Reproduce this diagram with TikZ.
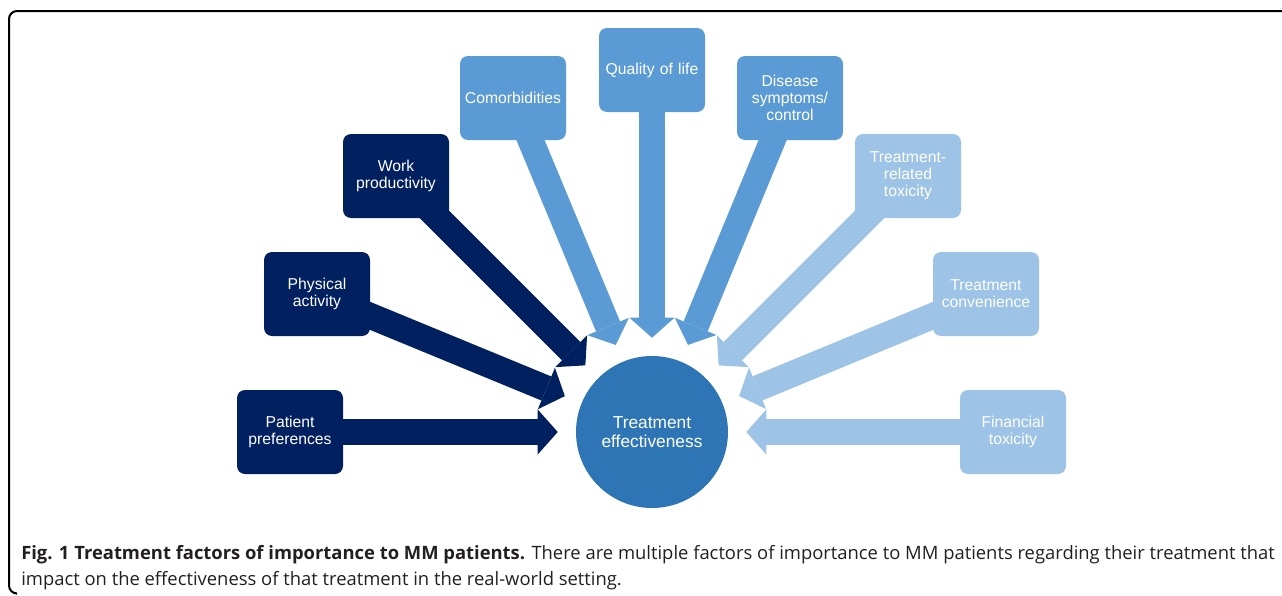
\documentclass[tikz,border=0pt]{standalone}
\usepackage{fontspec}
\setmainfont{Liberation Sans}
\newfontfamily\captionfont{Open Sans}
\usetikzlibrary{arrows.meta, positioning}
\definecolor{navy}{RGB}{0,32,96}
\definecolor{midblue}{RGB}{91,155,213}
\definecolor{lightblue}{RGB}{157,195,230}
\definecolor{core}{RGB}{46,117,182}
\definecolor{captiontext}{RGB}{35,31,32}
\pgfdeclarelayer{background}
\pgfsetlayers{background,main}

\begin{document}
\begin{tikzpicture}[
    x=0.75pt, y=-0.75pt,
    factor/.style={rounded corners=6pt, minimum width=79.5pt, minimum height=63pt, inner sep=1pt, text width=77pt, align=center, text=white, font=\fontsize{11.8}{12.75}\selectfont},
    darkf/.style={factor, fill=navy},
    midf/.style={factor, fill=midblue},
    lightf/.style={factor, fill=lightblue},
    push/.style={line width=19.5pt, -{Triangle[width=33.75pt, length=15pt, line width=0pt]}, shorten >=13.5pt, shorten <=-20pt},
    caption/.style={anchor=base west, inner sep=0pt, text=captiontext, font=\captionfont\fontsize{13.8}{16}\selectfont}
]

\useasboundingbox (0,0) rectangle (1282,596);

% frame
\draw[line width=1.5pt, rounded corners=6pt] (1283,11) -- (9,11) -- (9,593.5) -- (16,593.5);

% centre
\node[circle, fill=core, minimum size=114pt, inner sep=0pt, align=center, text=white, font=\fontsize{13}{13.75}\selectfont] (eff) at (652,432) {Treatment\\effectiveness};

% factors, left to right
\node[darkf] (pref) at (290,432) {Patient\\preferences};
\node[darkf] (phys) at (317,294) {Physical\\activity};
\node[darkf] (work) at (396,176) {Work\\productivity};
\node[midf] (comorb) at (513,98) {Comorbidities};
\node[midf] (qol) at (652,70) {Quality of life};
\node[midf] (disease) at (790,98) {Disease\\symptoms/\\control};
\node[lightf] (trtox) at (908,176) {Treatment-\\related\\toxicity};
\node[lightf] (conv) at (986,294) {Treatment\\convenience};
\node[lightf] (fin) at (1013,432) {Financial\\toxicity};

% arrows into the centre
\begin{pgfonlayer}{background}
\draw[push, navy] (pref) -- (eff);
\draw[push, navy] (phys) -- (eff);
\draw[push, navy] (work) -- (eff);
\draw[push, midblue] (comorb) -- (eff);
\draw[push, midblue] (qol) -- (eff);
\draw[push, midblue] (disease) -- (eff);
\draw[push, lightblue] (trtox) -- (eff);
\draw[push, lightblue] (conv) -- (eff);
\draw[push, lightblue] (fin) -- (eff);
\end{pgfonlayer}

% caption
\node[caption] (capA) at (21,559) {\textbf{Fig. 1 Treatment factors of importance to MM patients.} There are multiple factors of importance to MM patients regarding their treatment that};
\node[caption] (capB) at (21,585) {impact on the effectiveness of that treatment in the real-world setting.};

\end{tikzpicture}
\end{document}
